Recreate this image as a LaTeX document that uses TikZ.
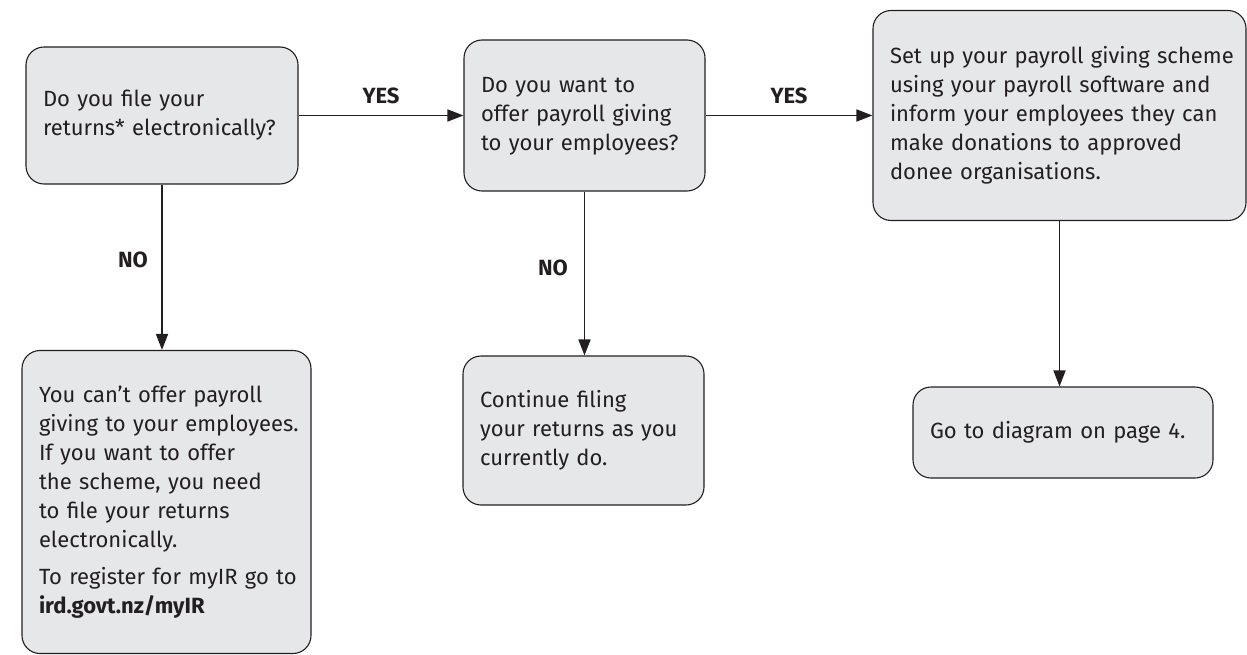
\documentclass[tikz,border=0pt]{standalone}
\usepackage{fontspec}
\setmainfont{Fira Sans}
\usetikzlibrary{arrows.meta}
\definecolor{boxfill}{RGB}{230,231,232}
\definecolor{ink}{RGB}{35,31,32}
\newcommand\boxlines[1]{\begin{tabular}{@{}l@{}}#1\end{tabular}}
\begin{document}
\begin{tikzpicture}[x=1pt,y=-1pt,
  box/.style={draw=ink, fill=boxfill, rounded corners=18pt, line width=1.1pt,
    align=left, inner xsep=17pt, inner ysep=0pt, text=ink,
    font=\fontsize{22}{29}\selectfont},
  conn/.style={draw=ink, line width=1.6pt, -{Triangle[length=16pt,width=12pt]}},
  lab/.style={font=\fontsize{22}{27}\selectfont\bfseries, text=ink, inner sep=0pt}]
\useasboundingbox (0,0) rectangle (1247,655);
% boxes
\node[box, text width=238pt, minimum height=137pt] (A) at (162,115.5)
  {\boxlines{Do you file your\\returns* electronically?}};
\node[box, text width=207pt, minimum height=151pt] (B) at (584.5,115.5)
  {\boxlines{Do you want to\\offer payroll giving\\to your employees?}};
\node[box, text width=339pt, minimum height=210pt] (C) at (1059.5,115.5)
  {\boxlines{Set up your payroll giving scheme\\using your payroll software and\\inform your employees they can\\make donations to approved\\donee organisations.}};
\node[box, text width=255pt, minimum height=303pt] (D) at (166.5,502)
  {\boxlines{You can{\char39}t offer payroll\\giving to your employees.\\If you want to offer\\the scheme, you need\\to file your returns\\electronically.\\[8pt]To register for myIR go to\\\textbf{ird.govt.nz/myIR}}};
\node[box, text width=207pt, minimum height=149pt] (E) at (583.5,430.5)
  {\boxlines{Continue filing\\your returns as you\\currently do.}};
\node[box, text width=266pt, minimum height=91pt] (F) at (1063,432.5)
  {\boxlines{Go to diagram on page 4.}};
% labels
\node[lab] (yes1) at (381,96) {YES};
\node[lab] (yes2) at (789,96) {YES};
\node[lab] (no1) at (133,260) {NO};
\node[lab] (no2) at (553,268) {NO};
% connectors
\draw[conn] (A) -- (B);
\draw[conn] (B) -- (C);
\draw[conn] (A.south) -- (A.south |- D.north);
\draw[conn] (B.south) -- (B.south |- E.north);
\draw[conn] (C.south) -- (C.south |- F.north);
\end{tikzpicture}
\end{document}
